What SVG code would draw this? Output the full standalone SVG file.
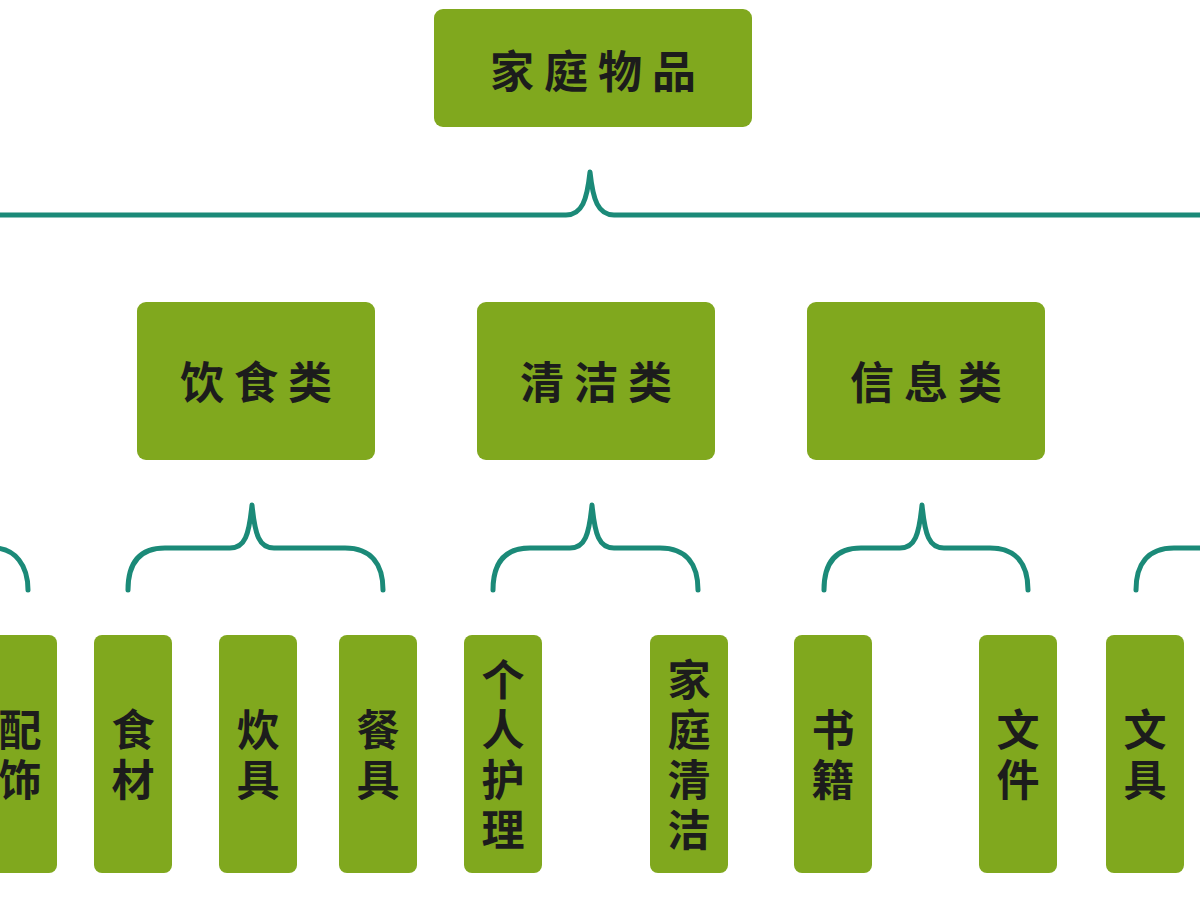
<svg xmlns="http://www.w3.org/2000/svg" width="1200" height="900" viewBox="0 0 1200 900">
<style>
.box{fill:#80a81e;}
.t{font-family:"Noto Sans CJK SC","Noto Sans",sans-serif;font-weight:bold;fill:#1c1c1c;text-anchor:middle;dominant-baseline:central;}
.h{font-size:44px;letter-spacing:10px;}
.v{font-size:43px;writing-mode:vertical-rl;letter-spacing:7px;dominant-baseline:auto;}
.br{fill:none;stroke:#1b8a78;stroke-width:5;stroke-linecap:round;stroke-linejoin:round;}
</style>
<rect width="1200" height="900" fill="#ffffff"/>
<g id="connectors">
<path class="br" d="M-5 215 H566 C582 215 587 200 590 172 C593 200 598 215 614 215 H1205"/>
<path class="br" d="M128 590 C128 565 138 548 165 548 H230 C245 548 249 535 252 505 C255 535 259 548 274 548 H345 C372 548 383 565 383 590"/>
<path class="br" d="M493 590 C493 565 503 548 530 548 H570 C585 548 589 535 592 505 C595 535 599 548 614 548 H660 C687 548 698 565 698 590"/>
<path class="br" d="M824 590 C824 565 834 548 861 548 H900 C915 548 919 535 922 505 C925 535 929 548 944 548 H990 C1017 548 1028 565 1028 590"/>
<path class="br" d="M-5 548 C15 549 28 565 28 590"/>
<path class="br" d="M1136 590 C1136 565 1147 548 1174 548 H1205"/>
</g>
<g id="root"><rect class="box" x="434" y="9" width="318" height="118" rx="9"/><text class="t h" x="598" y="69">家庭物品</text></g>
<g id="food"><rect class="box" x="137" y="302" width="238" height="158" rx="9"/><text class="t h" x="261" y="380">饮食类</text></g>
<g id="clean"><rect class="box" x="477" y="302" width="238" height="158" rx="9"/><text class="t h" x="601" y="380">清洁类</text></g>
<g id="info"><rect class="box" x="807" y="302" width="238" height="158" rx="9"/><text class="t h" x="931" y="380">信息类</text></g>
<g id="peishi"><rect class="box" x="-30" y="635" width="87" height="238" rx="8"/><text class="t v" x="20" y="758">配饰</text></g>
<g id="shicai"><rect class="box" x="94" y="635" width="78" height="238" rx="8"/><text class="t v" x="133" y="758">食材</text></g>
<g id="chuiju"><rect class="box" x="219" y="635" width="78" height="238" rx="8"/><text class="t v" x="258" y="758">炊具</text></g>
<g id="canju"><rect class="box" x="339" y="635" width="78" height="238" rx="8"/><text class="t v" x="378" y="758">餐具</text></g>
<g id="geren"><rect class="box" x="464" y="635" width="78" height="238" rx="8"/><text class="t v" x="503" y="758">个人护理</text></g>
<g id="jiating"><rect class="box" x="650" y="635" width="78" height="238" rx="8"/><text class="t v" x="689" y="758">家庭清洁</text></g>
<g id="shuji"><rect class="box" x="794" y="635" width="78" height="238" rx="8"/><text class="t v" x="833" y="758">书籍</text></g>
<g id="wenjian"><rect class="box" x="979" y="635" width="78" height="238" rx="8"/><text class="t v" x="1018" y="758">文件</text></g>
<g id="wenju"><rect class="box" x="1106" y="635" width="78" height="238" rx="8"/><text class="t v" x="1145" y="758">文具</text></g>
</svg>
